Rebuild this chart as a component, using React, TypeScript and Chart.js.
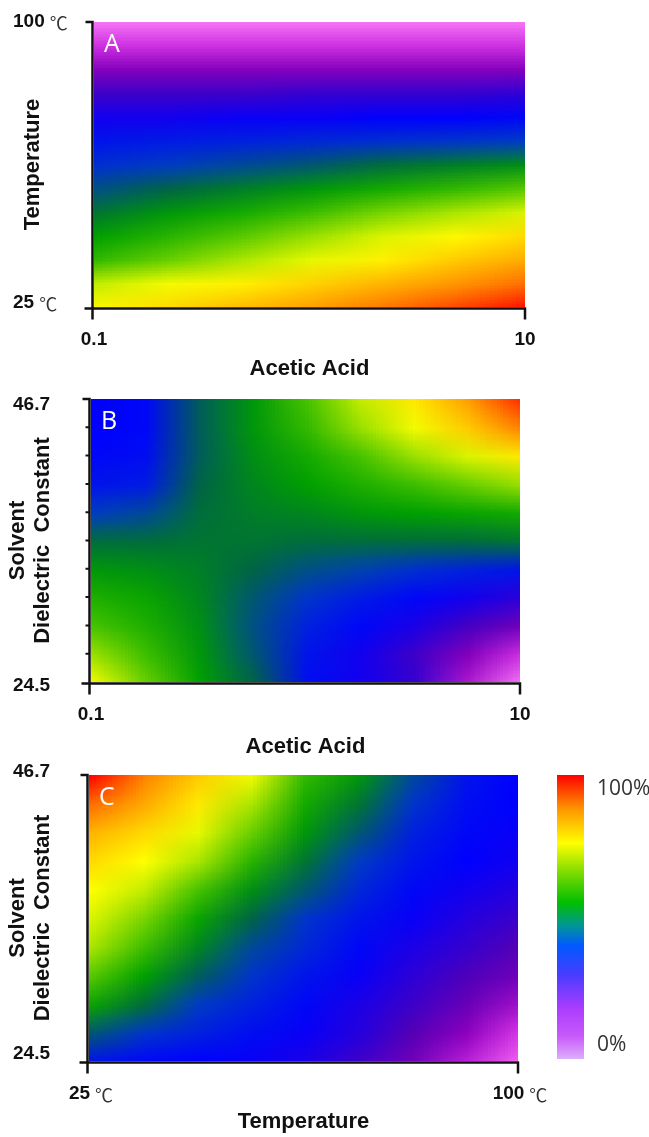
import React, { useEffect, useRef } from 'react';
import { Chart, registerables } from 'chart.js';

Chart.register(...registerables);

const W = 649;
const H = 1137;

// ---------------- Panel A : Temperature vs Acetic Acid ----------------
const aceticAcidA = [0.1, 0.215, 0.464, 1, 2.15, 4.64, 10];
const temperatureA = [100, 93.75, 87.5, 81.25, 75, 68.75, 62.5, 56.25, 50, 43.75, 37.5, 31.25, 25];
const yieldA = [
  [3, 3, 3, 3, 3, 3, 3],
  [11, 11, 11, 11, 11, 11, 11],
  [18, 18, 18, 18, 18, 18, 18],
  [26, 26, 26, 27, 27, 27, 28],
  [31, 31, 32, 32, 33, 33, 34],
  [36, 37, 38, 39, 40, 41, 42],
  [40, 42, 44, 46, 49, 51, 53],
  [45, 48, 51, 54, 57, 60, 63],
  [50, 54, 57, 61, 65, 68, 72],
  [55, 59, 63, 67, 72, 76, 80],
  [60, 64, 68, 73, 77, 82, 86],
  [70, 74, 77, 81, 85, 88, 92],
  [76, 80, 84, 87, 91, 95, 99],
];

// ---------------- Panel B : Dielectric constant vs Acetic Acid ----------------
const aceticAcidB = [0.1, 0.178, 0.316, 0.562, 1, 1.78, 3.16, 5.62, 10];
const dielectricB = [46.7, 44.48, 42.26, 40.04, 37.82, 35.6, 33.38, 31.16, 28.94, 26.72, 24.5];
const yieldB = [
  [33, 34, 47, 54, 62, 70, 78, 87, 97],
  [33, 34, 47, 54, 60, 67, 74, 82, 90],
  [34, 35, 47, 53, 57, 62, 67, 72, 78],
  [36, 37, 48, 52, 55, 58, 61, 64, 67],
  [42, 44, 49, 51, 52, 54, 55, 56, 57],
  [49, 49, 50, 50, 49, 49, 49, 49, 50],
  [54, 53, 51, 48, 45, 43, 40, 38, 36],
  [58, 56, 52, 46, 41, 37, 34, 31, 28],
  [62, 58, 53, 45, 38, 34, 30, 25, 20],
  [67, 61, 54, 46, 36, 31, 26, 18, 11],
  [74, 64, 55, 48, 35, 31, 27, 14, 3],
];

// ---------------- Panel C : Dielectric constant vs Temperature ----------------
const temperatureC = [25, 34.375, 43.75, 53.125, 62.5, 71.875, 81.25, 90.625, 100];
const dielectricC = [46.7, 44.48, 42.26, 40.04, 37.82, 35.6, 33.38, 31.16, 28.94, 26.72, 24.5];
const yieldC = [
  [100, 90, 82, 74, 60, 54, 44, 36, 33],
  [92, 86, 78, 68, 57, 50, 41, 35, 33],
  [85, 80, 73, 64, 54, 46, 38, 34, 32],
  [80, 75, 68, 59, 50, 42, 36, 33, 31],
  [75, 70, 62, 53, 46, 39, 34, 31, 29],
  [72, 65, 56, 48, 41, 36, 32, 29, 26],
  [68, 61, 52, 44, 39, 34, 30, 27, 23],
  [63, 55, 47, 41, 36, 32, 28, 24, 20],
  [56, 49, 42, 38, 34, 30, 26, 21, 15],
  [46, 41, 38, 35, 32, 29, 23, 17, 10],
  [36, 34, 33, 32, 30, 26, 20, 13, 5],
];

// ---------------- Tick labels ----------------
const acidTicks = [0.1, 10];
const acidTickLabels = ['0.1', '10'];
const tempTicksY = [100, 25];
const tempTickLabelsY = ['100', '25'];
const tempTicksX = [25, 100];
const tempTickLabelsX = ['25', '100'];
const dielectricTicks = [46.7, 24.5];
const dielectricTickLabels = ['46.7', '24.5'];
const colorbarTicks = [100, 0];
const colorbarLabels = ['100%', '0%'];

// ---------------- Colour map ----------------
const HEAT_STOPS = [0, 4, 10, 17, 23, 28, 33, 42, 48, 55, 62, 68, 75, 85, 93, 100];
const HEAT_COLORS = [
  [250, 145, 250], [245, 105, 245], [215, 55, 230], [140, 0, 190], [85, 0, 180],
  [45, 0, 215], [0, 0, 255], [0, 60, 195], [0, 100, 70], [0, 160, 0],
  [70, 195, 0], [170, 230, 0], [255, 255, 0], [255, 180, 0], [255, 100, 0], [255, 0, 0],
];
const BAR_STOPS = [100, 88, 76, 66, 55, 47, 40, 30, 18, 8, 0];
const BAR_COLORS = [
  'rgb(255,0,0)', 'rgb(255,150,0)', 'rgb(255,255,0)', 'rgb(130,220,0)', 'rgb(0,190,0)',
  'rgb(0,150,150)', 'rgb(0,90,255)', 'rgb(70,60,255)', 'rgb(170,60,255)', 'rgb(200,90,250)', 'rgb(220,175,250)',
];

const NUM_FONT = 'bold 19px "Liberation Sans", Arial, sans-serif';
const UNIT_FONT = '18px "Noto Sans CJK JP", "DejaVu Sans", sans-serif';
const TITLE_FONT = 'bold 22px "Liberation Sans", Arial, sans-serif';
const LETTER_FONT = '25px "Open Sans", sans-serif';
const AXIS_COLOR = '#111';

function heatColor(v: number): number[] {
  for (let i = 1; i < HEAT_STOPS.length; i++) {
    if (v <= HEAT_STOPS[i]) {
      const t = (v - HEAT_STOPS[i - 1]) / (HEAT_STOPS[i] - HEAT_STOPS[i - 1]);
      return HEAT_COLORS[i - 1].map((c, k) => Math.round(c + (HEAT_COLORS[i][k] - c) * t));
    }
  }
  return HEAT_COLORS[HEAT_COLORS.length - 1];
}

function makeHeatmapPlugin(xs: number[], ys: number[], grid: number[][]) {
  return {
    id: 'heatmap',
    beforeDatasetsDraw(chart: any) {
      const { ctx, chartArea: a, scales } = chart;
      const rows = grid.length;
      const cols = grid[0].length;
      const off = document.createElement('canvas');
      off.width = cols;
      off.height = rows;
      const octx = off.getContext('2d')!;
      const img = octx.createImageData(cols, rows);
      for (let r = 0; r < rows; r++) {
        for (let c = 0; c < cols; c++) {
          const col = heatColor(grid[r][c]);
          const i = (r * cols + c) * 4;
          img.data[i] = col[0];
          img.data[i + 1] = col[1];
          img.data[i + 2] = col[2];
          img.data[i + 3] = 255;
        }
      }
      octx.putImageData(img, 0, 0);
      const x0 = scales.x.getPixelForValue(xs[0]);
      const x1 = scales.x.getPixelForValue(xs[cols - 1]);
      const y0 = scales.y.getPixelForValue(ys[0]);
      const y1 = scales.y.getPixelForValue(ys[rows - 1]);
      const cw = (x1 - x0) / (cols - 1);
      const ch = (y1 - y0) / (rows - 1);
      ctx.save();
      ctx.beginPath();
      ctx.rect(a.left, a.top, a.right - a.left, a.bottom - a.top);
      ctx.clip();
      ctx.imageSmoothingEnabled = true;
      ctx.drawImage(off, x0 - cw / 2, y0 - ch / 2, cw * cols, ch * rows);
      ctx.restore();
    },
  };
}

function drawCompound(ctx: CanvasRenderingContext2D, num: string, unit: string, x: number, y: number, align: string) {
  ctx.font = NUM_FONT;
  const w1 = ctx.measureText(num).width;
  ctx.font = UNIT_FONT;
  const w2 = unit ? ctx.measureText(unit).width : 0;
  const gap = unit ? 5 : 0;
  const total = w1 + gap + w2;
  const sx = align === 'center' ? x - total / 2 : x;
  ctx.textAlign = 'left';
  ctx.textBaseline = 'middle';
  ctx.font = NUM_FONT;
  ctx.fillStyle = '#111';
  ctx.fillText(num, sx, y);
  if (unit) {
    ctx.font = UNIT_FONT;
    ctx.fillStyle = '#333';
    ctx.fillText(unit, sx + w1 + gap, y + 1);
  }
}

function makeAxesPlugin(o: any) {
  return {
    id: 'panelAxes',
    afterDraw(chart: any) {
      const { ctx, chartArea: a, scales } = chart;
      const xs = scales.x;
      const ys = scales.y;
      const ax = a.left - 1.5;
      const ay = a.bottom + 1.5;
      const yTop = ys.getPixelForValue(o.yTicks[0]);
      const xEnd = xs.getPixelForValue(o.xTicks[o.xTicks.length - 1]);
      ctx.save();
      ctx.strokeStyle = AXIS_COLOR;
      ctx.lineWidth = 2.5;
      ctx.beginPath();
      ctx.moveTo(ax, yTop - 1);
      ctx.lineTo(ax, ay + 11);
      ctx.moveTo(ax - 7, yTop);
      ctx.lineTo(ax + 1.2, yTop);
      ctx.moveTo(ax - 8, ay);
      ctx.lineTo(xEnd + 1.2, ay);
      ctx.moveTo(xEnd, ay);
      ctx.lineTo(xEnd, ay + 11);
      ctx.stroke();
      if (o.minorTicks.length) {
        ctx.lineWidth = 2;
        ctx.beginPath();
        o.minorTicks.forEach((v: number) => {
          const py = ys.getPixelForValue(v);
          ctx.moveTo(ax - 4, py);
          ctx.lineTo(ax, py);
        });
        ctx.stroke();
      }
      o.yTicks.forEach((v: number, i: number) => {
        drawCompound(ctx, o.yLabels[i], o.yUnit, 13, ys.getPixelForValue(v) + o.yLabelDy[i], 'left');
      });
      o.xTicks.forEach((v: number, i: number) => {
        drawCompound(ctx, o.xLabels[i], o.xUnit, xs.getPixelForValue(v) + (o.xUnit ? 2 : 0), a.bottom + 33, 'center');
      });
      ctx.font = TITLE_FONT;
      ctx.fillStyle = '#111';
      ctx.textAlign = 'center';
      ctx.textBaseline = 'middle';
      ctx.fillText(o.xTitle, (a.left + a.right) / 2, a.bottom + o.xTitleDy);
      o.yTitle.forEach((t: string, i: number) => {
        ctx.save();
        ctx.translate(o.yTitleX[i], (a.top + a.bottom) / 2);
        ctx.rotate(-Math.PI / 2);
        ctx.fillText(t, 0, 0);
        ctx.restore();
      });
      ctx.font = LETTER_FONT;
      ctx.fillStyle = '#fff';
      ctx.textAlign = 'left';
      ctx.textBaseline = 'alphabetic';
      ctx.fillText(o.letter, a.left + 10, a.top + 30);
      ctx.restore();
    },
  };
}

function heatConfig(xs: number[], ys: number[], grid: number[][], xType: string, padding: any, axes: any): any {
  const points: any[] = [];
  ys.forEach((yv, r) => xs.forEach((xv, c) => points.push({ x: xv, y: yv, v: grid[r][c] })));
  return {
    type: 'scatter',
    data: { datasets: [{ data: points, pointRadius: 0, pointHoverRadius: 0 }] },
    options: {
      animation: false,
      responsive: false,
      events: [],
      layout: { padding },
      scales: {
        x: { type: xType, min: xs[0], max: xs[xs.length - 1], display: false },
        y: { type: 'linear', min: Math.min(...ys), max: Math.max(...ys), display: false },
      },
      plugins: { legend: { display: false }, tooltip: { enabled: false } },
    },
    plugins: [makeHeatmapPlugin(xs, ys, grid), makeAxesPlugin(axes)],
  };
}

const colorbarLabelPlugin = {
  id: 'colorbarLabels',
  afterDraw(chart: any) {
    const { ctx, chartArea: a, scales } = chart;
    ctx.save();
    ctx.font = '21px "Open Sans", sans-serif';
    ctx.fillStyle = '#333';
    ctx.textAlign = 'left';
    ctx.textBaseline = 'middle';
    colorbarTicks.forEach((v, i) => {
      const py = scales.y.getPixelForValue(v) + (v === 100 ? 14 : -14);
      ctx.fillText(colorbarLabels[i], a.right + 13, py);
    });
    ctx.restore();
  },
};

function colorbarConfig(): any {
  return {
    type: 'bar',
    data: {
      labels: [''],
      datasets: [
        {
          data: [[0, 100]],
          borderWidth: 0,
          barPercentage: 1,
          categoryPercentage: 1,
          backgroundColor: (c: any) => {
            const chart = c.chart;
            const { chartArea, scales } = chart;
            if (!chartArea || !scales.y) return BAR_COLORS[0];
            const top = scales.y.getPixelForValue(100);
            const bottom = scales.y.getPixelForValue(0);
            const g = chart.ctx.createLinearGradient(0, top, 0, bottom);
            BAR_STOPS.forEach((v, i) => {
              g.addColorStop((scales.y.getPixelForValue(v) - top) / (bottom - top), BAR_COLORS[i]);
            });
            return g;
          },
        },
      ],
    },
    options: {
      animation: false,
      responsive: false,
      events: [],
      layout: { padding: { left: 557, top: 775, right: W - 584, bottom: H - 1059 } },
      scales: {
        x: { display: false },
        y: { display: false, min: 0, max: 100 },
      },
      plugins: { legend: { display: false }, tooltip: { enabled: false } },
    },
    plugins: [colorbarLabelPlugin],
  };
}

export default function App() {
  const refA = useRef<HTMLCanvasElement>(null);
  const refB = useRef<HTMLCanvasElement>(null);
  const refC = useRef<HTMLCanvasElement>(null);
  const refBar = useRef<HTMLCanvasElement>(null);

  useEffect(() => {
    const charts = [
      new Chart(
        refA.current!,
        heatConfig(aceticAcidA, temperatureA, yieldA, 'logarithmic',
          { left: 94, top: 22, right: W - 525, bottom: H - 307 },
          {
            letter: 'A', xTicks: acidTicks, xLabels: acidTickLabels, xUnit: '',
            yTicks: tempTicksY, yLabels: tempTickLabelsY, yUnit: '℃', yLabelDy: [0, -4],
            xTitle: 'Acetic Acid', xTitleDy: 62, yTitle: ['Temperature'], yTitleX: [33], minorTicks: [],
          })
      ),
      new Chart(
        refB.current!,
        heatConfig(aceticAcidB, dielectricB, yieldB, 'logarithmic',
          { left: 91, top: 399, right: W - 520, bottom: H - 682 },
          {
            letter: 'B', xTicks: acidTicks, xLabels: acidTickLabels, xUnit: '',
            yTicks: dielectricTicks, yLabels: dielectricTickLabels, yUnit: '', yLabelDy: [6, 4],
            xTitle: 'Acetic Acid', xTitleDy: 65, yTitle: ['Solvent', 'Dielectric  Constant'], yTitleX: [18, 43],
            minorTicks: dielectricB.slice(1, dielectricB.length - 1),
          })
      ),
      new Chart(
        refC.current!,
        heatConfig(temperatureC, dielectricC, yieldC, 'linear',
          { left: 89, top: 775, right: W - 518, bottom: H - 1061 },
          {
            letter: 'C', xTicks: tempTicksX, xLabels: tempTickLabelsX, xUnit: '℃',
            yTicks: dielectricTicks, yLabels: dielectricTickLabels, yUnit: '', yLabelDy: [-3, -7],
            xTitle: 'Temperature', xTitleDy: 61, yTitle: ['Solvent', 'Dielectric  Constant'], yTitleX: [18, 43],
            minorTicks: [],
          })
      ),
      new Chart(refBar.current!, colorbarConfig()),
    ];
    return () => charts.forEach((c) => c.destroy());
  }, []);

  const canvasStyle: React.CSSProperties = { position: 'absolute', left: 0, top: 0 };
  return (
    <div style={{ position: 'absolute', left: 0, top: 0, width: W, height: H, background: '#fff' }}>
      <canvas ref={refA} width={W} height={H} style={canvasStyle} />
      <canvas ref={refB} width={W} height={H} style={canvasStyle} />
      <canvas ref={refC} width={W} height={H} style={canvasStyle} />
      <canvas ref={refBar} width={W} height={H} style={canvasStyle} />
    </div>
  );
}
